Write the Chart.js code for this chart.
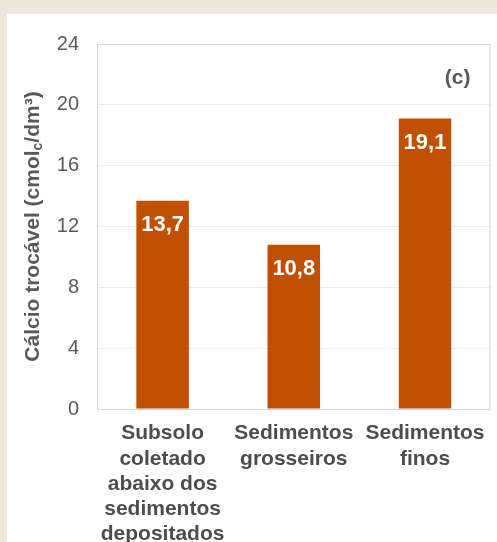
<!DOCTYPE html>
<html lang="pt">
<head>
  <meta charset="UTF-8" />
  <title>Cálcio trocável</title>
  <script src="https://cdn.jsdelivr.net/npm/chart.js"></script>
  <style>
    html, body { margin: 0; padding: 0; background: #f1e6da; }
    #panel { position: absolute; left: 7px; top: 14px; width: 490px; height: 528px; background: #fff; }
    canvas { display: block; }
  </style>
</head>
<body>
  <div id="panel"><canvas id="calcioChart" width="490" height="528"></canvas></div>

  <script>
    // dados (c)
    const categorias = [
      ['Subsolo', 'coletado', 'abaixo dos', 'sedimentos', 'depositados'],
      ['Sedimentos', 'grosseiros'],
      ['Sedimentos', 'finos']
    ];
    const valores = [13.7, 10.8, 19.1];
    const yTicks = [0, 4, 8, 12, 16, 20, 24];
    const painel = '(c)';

    const FONT = "'Liberation Sans', Arial, sans-serif";

    // rótulos dentro das barras, moldura, título do eixo e "(c)"
    const extras = {
      id: 'extras',
      afterDatasetsDraw(chart) {
        const ctx = chart.ctx;
        const area = chart.chartArea;
        ctx.save();
        // moldura da área de plotagem
        ctx.strokeStyle = '#d6d6d6';
        ctx.lineWidth = 1;
        ctx.strokeRect(area.left + 0.5, area.top + 0.5, area.right - area.left - 1, area.bottom - area.top);

        // valores
        const meta = chart.getDatasetMeta(0);
        ctx.fillStyle = '#ffffff';
        ctx.font = 'bold 22px ' + FONT;
        ctx.textAlign = 'center';
        ctx.textBaseline = 'middle';
        meta.data.forEach((bar, i) => {
          ctx.fillText(valores[i].toFixed(1).replace('.', ','), bar.x, bar.y + 24);
        });

        // (c)
        ctx.fillStyle = '#595959';
        ctx.font = 'bold 21px ' + FONT;
        ctx.fillText(painel, area.right - 33, area.top + 34);

        // título do eixo y com subscrito
        const parts = [
          { t: 'Cálcio trocável (cmol', f: 'bold 21px ' + FONT, dy: 0 },
          { t: 'c', f: 'bold 14px ' + FONT, dy: 5 },
          { t: '/dm³)', f: 'bold 21px ' + FONT, dy: 0 }
        ];
        let total = 0;
        parts.forEach(p => { ctx.font = p.f; p.w = ctx.measureText(p.t).width; total += p.w; });
        ctx.translate(26, (area.top + area.bottom) / 2);
        ctx.rotate(-Math.PI / 2);
        ctx.textAlign = 'left';
        let x = -total / 2;
        parts.forEach(p => {
          ctx.font = p.f;
          ctx.fillText(p.t, x, p.dy);
          x += p.w;
        });
        ctx.restore();
      }
    };

    const ctx = document.getElementById('calcioChart').getContext('2d');
    new Chart(ctx, {
      type: 'bar',
      data: {
        labels: categorias,
        datasets: [{
          data: valores,
          backgroundColor: '#c05000',
          borderWidth: 0,
          barPercentage: 0.4,
          categoryPercentage: 1.0
        }]
      },
      options: {
        responsive: false,
        animation: false,
        layout: { padding: { top: 24, right: 3, left: 0, bottom: 0 } },
        plugins: {
          legend: { display: false },
          tooltip: { enabled: false },
          title: { display: false }
        },
        scales: {
          x: {
            grid: { display: false, drawTicks: false },
            border: { display: false },
            ticks: {
              color: '#4d4d4d',
              font: { family: FONT, size: 21, weight: 'bold', lineHeight: 1.2 },
              padding: 12,
              maxRotation: 0,
              autoSkip: false
            },
            afterFit(scale) { scale.height = 133; }
          },
          y: {
            min: 0,
            max: 24,
            afterBuildTicks(scale) { scale.ticks = yTicks.map(v => ({ value: v })); },
            grid: { color: '#ececec', drawTicks: false },
            border: { display: false },
            ticks: {
              color: '#595959',
              font: { family: FONT, size: 20 },
              padding: 18
            },
            afterFit(scale) { scale.width = 90; }
          }
        }
      },
      plugins: [extras]
    });
  </script>
</body>
</html>
